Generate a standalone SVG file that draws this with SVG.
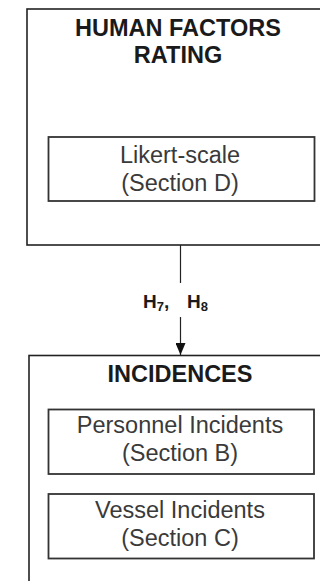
<svg xmlns="http://www.w3.org/2000/svg" width="320" height="581" viewBox="0 0 320 581">
<style>
.box{fill:#fff;stroke:#222;stroke-width:1.6}
.inner{fill:#fff;stroke:#333;stroke-width:1.8}
.title{font-family:"Liberation Sans",Arial,sans-serif;font-weight:bold;font-size:23.5px;fill:#1a1a1a;text-anchor:middle}
.txt{font-family:"Liberation Sans",Arial,sans-serif;font-size:23.5px;fill:#3a3a3a;text-anchor:middle}
.lbl{font-family:"Liberation Sans",Arial,sans-serif;font-weight:bold;fill:#1a1a1a}
.conn{stroke:#222;stroke-width:1.2;fill:none}
</style>
<defs>
<marker id="arrow" markerWidth="12" markerHeight="10" refX="12" refY="5" orient="auto" markerUnits="userSpaceOnUse" viewBox="0 0 12 10">
<path d="M0,0 L12,5 L0,10 Z" fill="#111"/>
</marker>
</defs>
<rect width="320" height="581" fill="#fff"/>
<g id="human-factors">
<rect class="box" x="27" y="9" width="300" height="236"/>
<text class="title" x="178" y="36">HUMAN FACTORS</text>
<text class="title" x="178" y="63">RATING</text>
<g id="likert">
<rect class="inner" x="48.5" y="137" width="266" height="64"/>
<text class="txt" x="180" y="163">Likert-scale</text>
<text class="txt" x="180" y="191">(Section D)</text>
</g>
</g>
<g id="incidences">
<rect class="box" x="29" y="355.5" width="300" height="240"/>
<text class="title" x="180" y="382">INCIDENCES</text>
<g id="personnel">
<rect class="inner" x="48.5" y="409.5" width="265.5" height="64.5"/>
<text class="txt" x="180" y="433">Personnel Incidents</text>
<text class="txt" x="180" y="461">(Section B)</text>
</g>
<g id="vessel">
<rect class="inner" x="48.5" y="494" width="265.5" height="64.5"/>
<text class="txt" x="180" y="518">Vessel Incidents</text>
<text class="txt" x="180" y="546">(Section C)</text>
</g>
</g>
<g id="connectors">
<line class="conn" x1="180.5" y1="245" x2="180.5" y2="283"/>
<line class="conn" x1="180.5" y1="317" x2="180.5" y2="355" marker-end="url(#arrow)"/>
<text class="lbl" x="143" y="308" style="font-size:19px">H<tspan style="font-size:13px" dy="3">7</tspan><tspan style="font-size:19px" dy="-3">,</tspan><tspan style="font-size:19px" x="187">H</tspan><tspan style="font-size:13px" dy="3">8</tspan></text>
</g>
</svg>
